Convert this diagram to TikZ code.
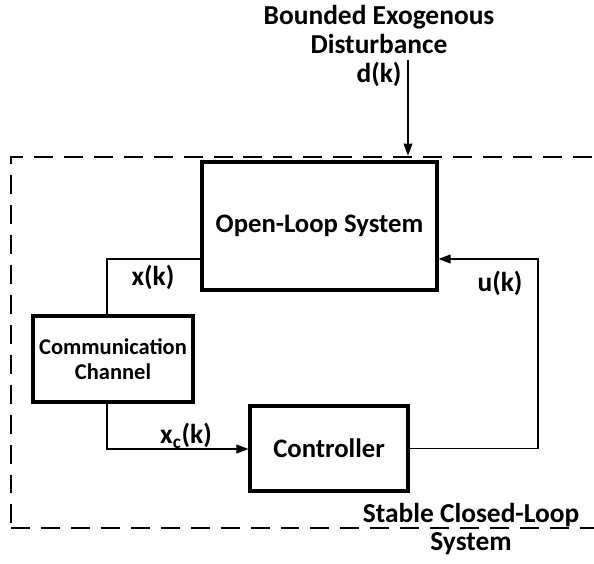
\documentclass[tikz,border=0pt]{standalone}
\usepackage{fontspec}
\setmainfont{Carlito}
\usetikzlibrary{arrows.meta, positioning}

\begin{document}
\begin{tikzpicture}[>={Triangle[length=3mm, width=2.2mm]},
		block/.style={rectangle, draw=black, line width=2.2pt, align=center, font=\bfseries\fontsize{19}{21}\selectfont},
		sig/.style={font=\bfseries\fontsize{19.5}{20.6}\selectfont},
		wire/.style={line width=1pt}]
		
		\useasboundingbox (0,0) rectangle (14.85,-14.075);
		\clip (0,0) rectangle (14.85,-14.075);
		
		% stable closed loop (dashed frame runs off the right edge)
		\node[draw, line width=2pt, dash pattern=on 13.5pt off 7.8pt, minimum width=14.975cm, minimum height=9.275cm] (loop) at (7.7625,-8.5625) {};
		
		\node[block, minimum width=5.875cm, minimum height=3.2cm] (ols) at (7.9875,-5.65) {Open-Loop System};
		\node[block, minimum width=4cm, minimum height=2.15cm, font=\bfseries\fontsize{16}{18}\selectfont] (comm) at (2.825,-8.975) {Communication\\Channel};
		\node[block, minimum width=3.95cm, minimum height=2.125cm] (ctrl) at (8.225,-11.2125) {Controller};
		
		\coordinate (xk) at (2.675,-6.475);
		\coordinate (xc) at (2.675,-11.225);
		\coordinate (uk) at (13.45,-6.475);
		\coordinate (dk) at (10.2,-1.5);
		
		\draw[wire] (xk -| ols.west) -- (xk) -- (xk |- comm.north);
		\draw[wire, ->] (xc |- comm.south) -- (xc) -- (xc -| ctrl.west);
		\draw[wire, ->] (ctrl.east) -- (ctrl.east -| uk) -- (uk) -- (uk -| ols.east);
		\draw[wire, ->] (dk) -- (dk |- loop.north);
		
		\node[sig, align=center] (dist) at (9.475,-1.15) {Bounded Exogenous\\Disturbance\\d(k)};
		\node[sig] (xklab) at (3.825,-6.925) {x(k)};
		\node[sig] (xclab) at (4.65,-10.9) {x\textsubscript{c}(k)};
		\node[sig] (uklab) at (12.5,-7.075) {u(k)};
		\node[sig, align=center] (stable) at (11.775,-13.225) {Stable Closed-Loop\\System};
	\end{tikzpicture}
\end{document}
